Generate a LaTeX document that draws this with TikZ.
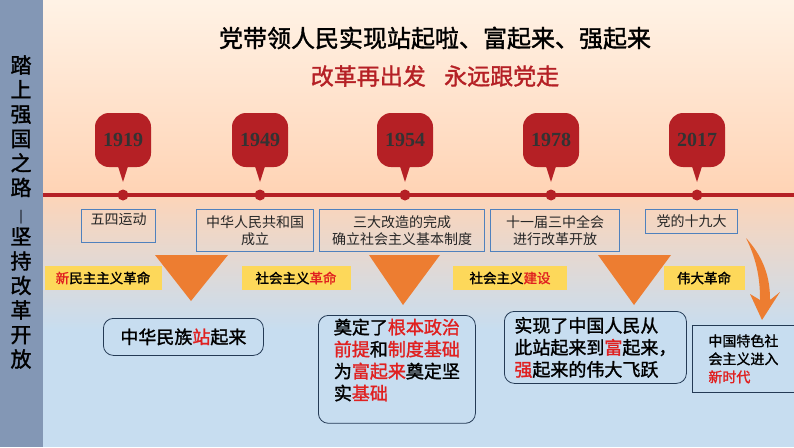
\documentclass[tikz,border=0pt]{standalone}
\usepackage{fontspec}
\setmainfont{Noto Sans CJK SC}
\newfontfamily\cjkb[FakeBold=1.5]{Noto Sans CJK SC}
\newfontfamily\yr{Liberation Serif}
\definecolor{rd}{HTML}{B52025}
\definecolor{tr}{HTML}{E02020}
\definecolor{org}{HTML}{ED7D31}
\definecolor{yl}{HTML}{FDD85A}
\definecolor{bb}{HTML}{4F81BD}
\definecolor{lb}{HTML}{C7DDF0}
\definecolor{side}{HTML}{8397B5}
\tikzset{
 yearmk/.style={fill=rd,rounded corners=14pt,minimum width=56pt,minimum height=54pt,font=\yr\bfseries\fontsize{20}{20}\selectfont,text=black!80},
 evbox/.style={draw=bb,line width=1.2pt,anchor=north west,font=\fontsize{14}{17}\selectfont,align=center,text=black!85},
 tag/.style={fill=yl,font=\cjkb\fontsize{13.5}{14}\selectfont,minimum height=24pt,inner xsep=6pt},
 res/.style={draw=black!55!bb,fill=lb,rounded corners=10pt,line width=0.8pt,font=\cjkb\fontsize{18}{22}\selectfont,align=left,anchor=north west},
 tri/.style={fill=org},
 dot/.style={circle,fill=rd,inner sep=0pt,minimum size=11pt}
}
\begin{document}
\begin{tikzpicture}[x=1pt,y=-1pt]
\useasboundingbox (0,0) rectangle (794,447);
\shade[top color=white!90!orange,bottom color=orange!25!white!95!red] (0,0) rectangle (794,190);
\shade[top color=orange!25!white!95!red,bottom color=lb] (0,190) rectangle (794,330);
\fill[lb] (0,329.5) rectangle (794,447);
\fill[side] (0,0) rectangle (43,447);
\node[font=\cjkb\fontsize{21}{24.5}\selectfont,align=center,text=black] (side) at (21,212) {踏\\上\\强\\国\\之\\路\\{\fontsize{12}{12}\selectfont|}\\坚\\持\\改\\革\\开\\放};
\node[font=\cjkb\fontsize{24}{26}\selectfont] (t1) at (435,38) {党带领人民实现站起啦、富起来、强起来};
\node[font=\cjkb\fontsize{23}{26}\selectfont,text=rd] (t2) at (435,76) {改革再出发\hspace{0.8em}永远跟党走};
\draw[rd,line width=4pt] (43,195) -- (794,195);
\foreach \x/\y [count=\i] in {123/1919,260/1949,405/1954,551/1978,697/2017}{
 \node[dot] (d\i) at (\x,195) {};
 \fill[rd] (\x-7,160) -- (\x,182) -- (\x+7,160) -- cycle;
 \node[yearmk] (y\i) at (\x,140) {\y};
}
\node[evbox,minimum width=74pt,minimum height=33pt,text depth=14pt] (e1) at (81,209) {五四运动};
\node[evbox,minimum width=117pt,minimum height=42pt] (e2) at (196,209) {中华人民共和国\\成立};
\node[evbox,minimum width=165pt,minimum height=42pt] (e3) at (319,209) {三大改造的完成\\确立社会主义基本制度};
\node[evbox,minimum width=129pt,minimum height=42pt] (e4) at (490,209) {十一届三中全会\\进行改革开放};
\node[evbox,minimum width=92pt,minimum height=24pt] (e5) at (645,209) {党的十九大};
\fill[tri] (155,255) -- (228,255) -- (191,301) -- cycle;
\fill[tri] (369,255) -- (440,255) -- (403,305) -- cycle;
\fill[tri] (598,255) -- (671,255) -- (634,305) -- cycle;
\node[tag,minimum width=117pt] (g1) at (103,278) {\textcolor{tr}{新}民主主义革命};
\node[tag,minimum width=109pt] (g2) at (296,278) {社会主义\textcolor{tr}{革命}};
\node[tag,minimum width=114pt] (g3) at (510,278) {社会主义\textcolor{tr}{建设}};
\node[tag,minimum width=81pt] (g4) at (704,278) {伟大革命};
\fill[org] (746,238) .. controls (768,262) and (770,285) .. (770,300) -- (780,292) -- (762,320) -- (750,294) -- (760,300) .. controls (760,282) and (758,262) .. (746,238) -- cycle;
\node[res,minimum width=160pt,minimum height=37pt] (r1) at (103,318) {中华民族\textcolor{tr}{站}起来};
\node[res,minimum width=157pt,minimum height=97pt,text depth=20pt] (r2) at (318,315) {奠定了\textcolor{tr}{根本政治}\\\textcolor{tr}{前提}和\textcolor{tr}{制度基础}\\为\textcolor{tr}{富起来}奠定坚\\实\textcolor{tr}{基础}};
\node[res,minimum width=182pt,minimum height=72pt] (r3) at (504,311) {实现了中国人民从\\此站起来到\textcolor{tr}{富}起来，\\\textcolor{tr}{强}起来的伟大飞跃};
\node[res,rounded corners=0pt,minimum width=102pt,minimum height=67pt,font=\cjkb\fontsize{14}{18}\selectfont] (r4) at (692,325) {中国特色社\\会主义进入\\\textcolor{tr}{新时代}};
\end{tikzpicture}
\end{document}
